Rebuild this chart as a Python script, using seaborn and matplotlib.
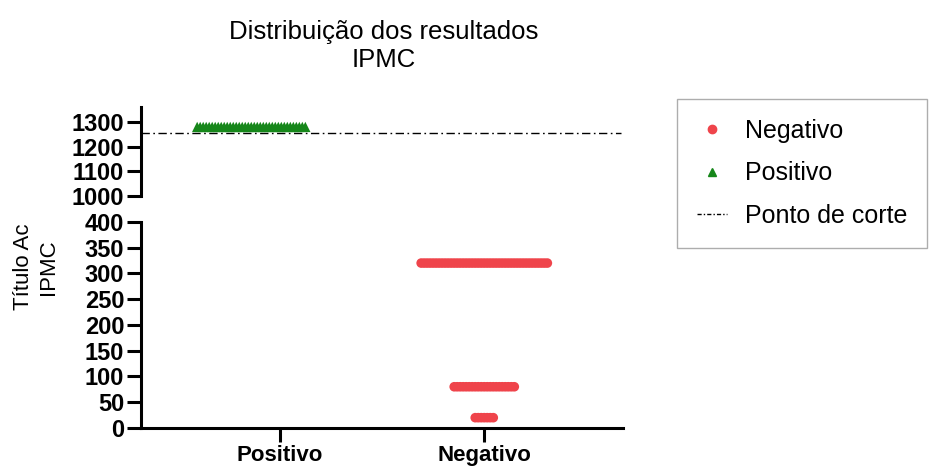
import numpy as np
import pandas as pd
import matplotlib
matplotlib.use("Agg")
import matplotlib.pyplot as plt
from matplotlib.lines import Line2D
import seaborn as sns

# ---- data ----
categories = ["Positivo", "Negativo"]
positivo_valor = [1280]
positivo_n = [37]
negativo_valores = [320, 80, 20]
negativo_n = [43, 21, 7]
ponto_de_corte = 1255
ticks_top = [1000, 1100, 1200, 1300]
ticks_bottom = [0, 50, 100, 150, 200, 250, 300, 350, 400]

sns.set_theme(style="ticks")
plt.rcParams["font.family"] = ["Liberation Sans", "DejaVu Sans"]
for k in ("text.color", "axes.labelcolor", "xtick.color", "ytick.color", "axes.edgecolor"):
    plt.rcParams[k] = "black"

RED = "#EF444B"
GREEN = "#16871A"
SPACING = 0.0147  # horizontal spread between overlapping points (layout)
TICKFS = 17

rows = []
for v, n in zip(positivo_valor, positivo_n):
    offs = (np.arange(n) - (n - 1) / 2) * SPACING - 0.14
    for o in offs:
        rows.append(("Positivo", v, categories.index("Positivo") + o))
for v, n in zip(negativo_valores, negativo_n):
    offs = (np.arange(n) - (n - 1) / 2) * SPACING
    for o in offs:
        rows.append(("Negativo", v, categories.index("Negativo") + o))
df = pd.DataFrame(rows, columns=["grupo", "titulo", "xpos"])

fig = plt.figure(figsize=(9.33, 4.68), dpi=100)
L, R = 0.151, 0.668
ax_top = fig.add_axes([L, 0.581, R - L, 0.771 - 0.581])
ax_bot = fig.add_axes([L, 0.0855, R - L, 0.526 - 0.0855])

for ax in (ax_top, ax_bot):
    sns.scatterplot(data=df[df.grupo == "Positivo"], x="xpos", y="titulo", ax=ax,
                    marker="^", color=GREEN, s=55, edgecolor="none", legend=False, zorder=3)
    sns.scatterplot(data=df[df.grupo == "Negativo"], x="xpos", y="titulo", ax=ax,
                    marker="o", color=RED, s=48, edgecolor="none", legend=False, zorder=3)
    ax.set_xlim(-0.68, 1.68)
    ax.set_xlabel("")
    ax.set_ylabel("")
    for s in ("top", "right"):
        ax.spines[s].set_visible(False)
    ax.spines["left"].set_linewidth(2.2)
    ax.spines["bottom"].set_linewidth(2.2)
    ax.tick_params(axis="y", direction="out", length=10, width=2.2, pad=2)

ax_top.axhline(ponto_de_corte, xmin=0, xmax=0.995, color="black", lw=1.0,
               linestyle=(0, (6, 2.5, 1.2, 2.5)), zorder=2)
ax_top.set_ylim(1000, 1360)
ax_top.set_yticks(ticks_top)
ax_top.spines["bottom"].set_visible(False)
ax_top.tick_params(axis="x", bottom=False, labelbottom=False)

ax_bot.set_ylim(0, 400)
ax_bot.set_yticks(ticks_bottom)
ax_bot.set_xticks(range(len(categories)))
ax_bot.set_xticklabels(categories, fontsize=16, fontweight="bold")
ax_bot.tick_params(axis="x", direction="out", length=10, width=2.2, pad=2)
ax_top.set_yticklabels([str(t) for t in ticks_top], fontweight="bold", fontsize=TICKFS)
ax_bot.set_yticklabels([str(t) for t in ticks_bottom], fontweight="bold", fontsize=TICKFS)

fig.text(0.4116, 0.902, "Distribuição dos resultados\nIPMC", ha="center", va="center",
         fontsize=18.5, linespacing=1.22)
fig.text(0.0385, 0.43, "Título Ac\nIPMC", ha="center", va="center", rotation=90,
         fontsize=16, linespacing=1.2)

handles = [
    Line2D([], [], marker="o", color=RED, linestyle="none", markersize=6),
    Line2D([], [], marker="^", color=GREEN, linestyle="none", markersize=6),
    Line2D([], [], color="black", lw=1.0, linestyle=(0, (3, 1.5, 1, 1.5))),
]
leg = fig.legend(handles, ["Negativo", "Positivo", "Ponto de corte"], loc="upper left",
                 bbox_to_anchor=(0.726, 0.789), fontsize=18, frameon=True, fancybox=False,
                 edgecolor="#999999", labelspacing=0.75, handlelength=1.2, handletextpad=0.7,
                 borderpad=0.8, borderaxespad=0)
leg.get_frame().set_linewidth(1.0)

fig.savefig("out.png", dpi=100)
